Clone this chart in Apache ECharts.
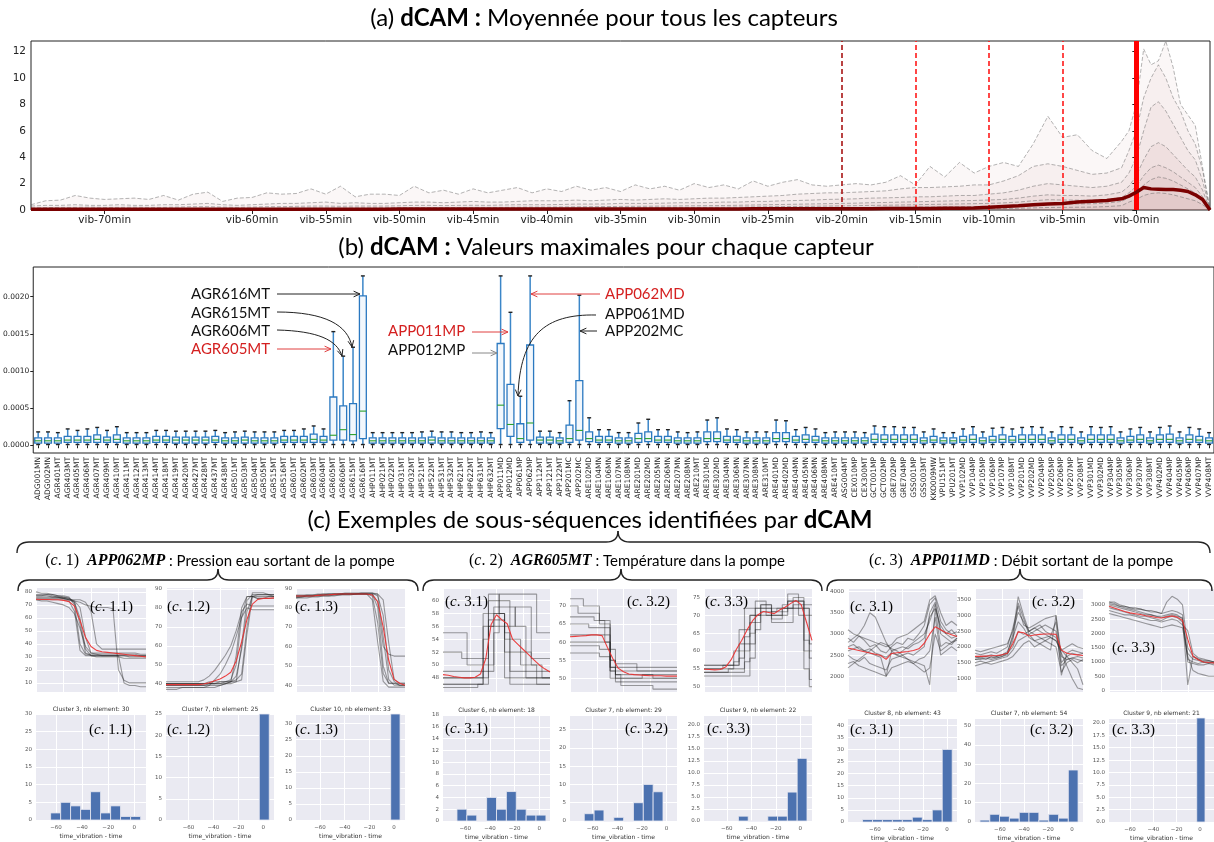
<!DOCTYPE html>
<html><head><meta charset="utf-8">
<script src="https://cdn.jsdelivr.net/npm/echarts@6/dist/echarts.min.js"></script>
<style>html,body{margin:0;padding:0;background:#fff}#c{width:1214px;height:842px}</style>
</head><body><div id="c"></div><script>
// ---------------- DATA: panel (a) ----------------
const aTimes = [-75,-74,-73,-72,-71,-70,-69,-68,-67,-66,-65,-64,-63,-62,-61,-60,-59,-58,-57,-56,-55,-54,-53,-52,-51,-50,-49,-48,-47,-46,-45,-44,-43,-42,-41,-40,-39,-38,-37,-36,-35,-34,-33,-32,-31,-30,-29,-28,-27,-26,-25,-24,-23,-22,-21,-20,-19,-18,-17,-16,-15,-14,-13,-12,-11,-10,-9,-8,-7,-6,-5,-4,-3,-2,-1,-0.5,0,0.5,1,1.5,2,2.5,3,3.5,4,4.5,5];
const aQ1 = [0.4,0.7,0.75,1.1,0.9,0.8,0.85,0.9,0.8,1.1,0.75,1.2,1.35,0.65,0.9,
0.95,1.3,1.2,1.25,1.6,1.2,1.8,1.0,1.2,1.2,1.1,1.8,1.3,1.5,1.2,1.6,1.3,1.5,1.7,1.3,
1.6,1.4,1.8,1.5,1.7,1.4,1.9,1.6,1.8,1.5,2.0,1.7,1.9,1.6,2.2,1.8,2.1,2.3,1.9,1.8,
1.9,2.0,1.9,2.1,2.6,1.9,3.3,2.5,3.6,2.8,3.3,3.6,3.3,5.0,7.1,5.5,5.7,4.5,3.9,5.2,
6.0,8.0,12.2,11.0,11.3,12.8,10.8,8.0,7.2,6.4,3.2,0];
const aQ2 = [0.3,0.35,0.35,0.4,0.35,0.35,0.4,0.35,0.35,0.4,0.4,0.45,0.5,0.4,0.35,
0.4,0.45,0.5,0.5,0.55,0.6,0.5,0.55,0.5,0.5,0.55,0.6,0.6,0.55,0.6,0.65,0.6,0.6,0.65,0.7,
0.7,0.7,0.75,0.7,0.75,0.8,0.75,0.8,0.85,0.8,0.85,0.9,0.9,0.95,1.0,1.05,1.1,1.2,1.25,1.3,
1.3,1.35,1.4,1.45,1.6,1.7,1.7,1.75,1.8,1.9,1.9,2.2,2.6,3.3,3.5,3.3,3.0,2.7,2.8,3.2,
4.5,6.0,8.5,10.0,11.0,10.0,8.5,7.5,6.0,5.0,3.0,0];
const aQ3 = [0.15,0.18,0.2,0.2,0.22,0.2,0.2,0.22,0.2,0.2,0.22,0.25,0.25,0.22,0.2,
0.22,0.25,0.25,0.28,0.3,0.3,0.28,0.3,0.3,0.3,0.32,0.35,0.35,0.33,0.35,0.36,0.35,0.38,0.4,0.4,
0.4,0.42,0.45,0.45,0.46,0.5,0.5,0.5,0.52,0.55,0.55,0.56,0.6,0.6,0.65,0.65,0.7,0.72,0.75,0.8,
0.82,0.85,0.9,0.92,0.95,1.0,1.0,1.05,1.1,1.1,1.2,1.3,1.5,1.8,2.0,1.9,1.8,1.7,1.8,2.1,
2.8,4.0,6.0,7.8,8.2,7.5,6.5,5.5,4.5,3.8,2.2,0];
const aQ4 = [0.08,0.1,0.1,0.1,0.1,0.1,0.1,0.1,0.1,0.1,0.1,0.12,0.12,0.1,0.1,
0.12,0.12,0.13,0.14,0.15,0.15,0.15,0.16,0.16,0.17,0.17,0.18,0.18,0.18,0.19,0.2,0.2,0.2,0.21,0.22,
0.22,0.23,0.24,0.25,0.26,0.27,0.28,0.29,0.3,0.31,0.32,0.33,0.34,0.36,0.38,0.4,0.42,0.44,0.46,0.48,
0.5,0.52,0.55,0.57,0.6,0.62,0.65,0.68,0.7,0.72,0.76,0.8,0.9,1.05,1.15,1.1,1.1,1.05,1.15,1.35,
1.8,2.6,3.8,4.8,5.1,4.8,4.2,3.6,3.0,2.5,1.5,0];
const aQ5 = [0.05,0.05,0.06,0.06,0.06,0.06,0.06,0.06,0.06,0.06,0.06,0.07,0.07,0.06,0.06,
0.07,0.07,0.07,0.08,0.08,0.08,0.08,0.09,0.09,0.09,0.1,0.1,0.1,0.1,0.11,0.11,0.11,0.12,0.12,0.12,
0.13,0.13,0.14,0.14,0.15,0.16,0.16,0.17,0.18,0.18,0.19,0.2,0.21,0.22,0.23,0.24,0.26,0.27,0.28,0.3,
0.31,0.33,0.35,0.36,0.38,0.4,0.42,0.44,0.46,0.48,0.5,0.54,0.6,0.7,0.78,0.76,0.75,0.74,0.8,0.95,
1.3,1.8,2.6,3.2,3.4,3.2,2.9,2.5,2.1,1.7,1.0,0];
const aQ6 = [0.03,0.03,0.03,0.03,0.03,0.03,0.03,0.03,0.03,0.03,0.03,0.04,0.04,0.03,0.03,
0.04,0.04,0.04,0.04,0.04,0.05,0.05,0.05,0.05,0.05,0.05,0.05,0.06,0.06,0.06,0.06,0.06,0.06,0.07,0.07,
0.07,0.07,0.08,0.08,0.08,0.09,0.09,0.1,0.1,0.1,0.11,0.11,0.12,0.12,0.13,0.13,0.14,0.15,0.15,0.16,
0.17,0.18,0.19,0.2,0.21,0.22,0.23,0.24,0.25,0.26,0.28,0.3,0.34,0.4,0.46,0.46,0.46,0.47,0.52,0.65,
0.95,1.3,1.9,2.3,2.5,2.4,2.2,1.9,1.6,1.3,0.7,0];
const aQ7 = [0.01,0.01,0.01,0.01,0.01,0.01,0.01,0.01,0.01,0.01,0.01,0.01,0.01,0.01,0.01,
0.01,0.01,0.01,0.01,0.01,0.02,0.02,0.02,0.02,0.02,0.02,0.02,0.02,0.02,0.02,0.02,0.02,0.02,0.02,0.02,
0.02,0.02,0.03,0.03,0.03,0.03,0.03,0.03,0.03,0.03,0.04,0.04,0.04,0.04,0.04,0.04,0.05,0.05,0.05,0.05,
0.06,0.06,0.06,0.07,0.07,0.08,0.08,0.09,0.09,0.1,0.1,0.11,0.13,0.16,0.19,0.2,0.21,0.22,0.26,0.33,
0.6,0.8,1.1,1.25,1.3,1.25,1.15,1.0,0.85,0.7,0.4,0];
const aMean = [0.06,0.06,0.06,0.06,0.06,0.06,0.06,0.06,0.06,0.06,0.06,0.06,0.06,0.06,0.06,
0.06,0.06,0.06,0.06,0.06,0.06,0.06,0.06,0.06,0.06,0.07,0.07,0.07,0.07,0.07,0.07,0.07,0.07,0.07,0.07,
0.07,0.07,0.07,0.07,0.07,0.08,0.08,0.08,0.08,0.08,0.08,0.08,0.08,0.08,0.09,0.09,0.09,0.09,0.09,0.09,
0.1,0.1,0.1,0.11,0.11,0.12,0.12,0.13,0.14,0.15,0.2,0.26,0.32,0.4,0.45,0.5,0.6,0.66,0.72,0.85,
1.05,1.35,1.7,1.6,1.58,1.55,1.55,1.5,1.4,1.15,0.8,0];
const aXTicks = [-70,-60,-55,-50,-45,-40,-35,-30,-25,-20,-15,-10,-5,0];
const aYTicks = [0,2,4,6,8,10,12];
const aMarkers = [-20,-15,-10,-5];

// ---------------- DATA: panel (b) ----------------
const sensors = ['ADG001MN','ADG002MN','AGR401MT','AGR403MT','AGR405MT','AGR406MT','AGR407MT','AGR409MT','AGR410MT','AGR411MT','AGR412MT','AGR413MT','AGR414MT','AGR418MT','AGR419MT','AGR420MT','AGR427MT','AGR428MT','AGR437MT','AGR438MT','AGR501MT','AGR503MT','AGR504MT','AGR505MT','AGR515MT','AGR516MT','AGR601MT','AGR602MT','AGR603MT','AGR604MT','AGR605MT','AGR606MT','AGR615MT','AGR616MT','AHP011MT','AHP021MT','AHP022MT','AHP031MT','AHP032MT','AHP521MT','AHP522MT','AHP531MT','AHP532MT','AHP621MT','AHP622MT','AHP631MT','AHP632MT','APP011MD','APP012MD','APP061MP','APP062MP','APP112MT','APP121MT','APP122MT','APP201MC','APP202MC','ARE102MD','ARE104MN','ARE106MN','ARE107MN','ARE108MN','ARE201MD','ARE202MD','ARE205MN','ARE206MN','ARE207MN','ARE208MN','ARE210MT','ARE301MD','ARE302MD','ARE304MN','ARE306MN','ARE307MN','ARE308MN','ARE310MT','ARE401MD','ARE402MD','ARE404MN','ARE405MN','ARE406MN','ARE408MN','ARE410MT','ASG004MT','CEX010MP','CEX300MT','GCT001MP','GCT002MP','GRE702MP','GRE704MP','GSS001MP','GSS003MT','KKO009MW','VPU151MT','VPU201MT','VVP102MD','VVP104MP','VVP105MP','VVP106MP','VVP107MP','VVP108MT','VVP201MD','VVP202MD','VVP204MP','VVP205MP','VVP206MP','VVP207MP','VVP208MT','VVP301MD','VVP302MD','VVP304MP','VVP305MP','VVP306MP','VVP307MP','VVP308MT','VVP402MD','VVP404MP','VVP405MP','VVP406MP','VVP407MP','VVP408MT'];
// [whisker low, Q1, median, Q3, whisker high]
const boxStats = [
[1e-5,3e-5,6e-5,10e-5,18e-5],[1e-5,3e-5,6e-5,10e-5,18e-5],[1e-5,3e-5,6e-5,10e-5,17e-5],[1e-5,4e-5,7e-5,12e-5,22e-5],[1e-5,4e-5,7e-5,12e-5,20e-5],
[1e-5,4e-5,7e-5,12e-5,22e-5],[1e-5,4e-5,8e-5,14e-5,24e-5],[1e-5,4e-5,7e-5,11e-5,20e-5],[1e-5,4e-5,8e-5,14e-5,25e-5],[1e-5,3e-5,6e-5,10e-5,17e-5],
[1e-5,3e-5,6e-5,10e-5,17e-5],[1e-5,3e-5,6e-5,10e-5,17e-5],[1e-5,4e-5,7e-5,12e-5,20e-5],[1e-5,4e-5,7e-5,12e-5,20e-5],[1e-5,3e-5,7e-5,11e-5,19e-5],
[1e-5,3e-5,7e-5,11e-5,19e-5],[1e-5,3e-5,7e-5,11e-5,19e-5],[1e-5,3e-5,7e-5,11e-5,19e-5],[1e-5,4e-5,7e-5,12e-5,20e-5],[1e-5,3e-5,6e-5,10e-5,17e-5],
[1e-5,3e-5,6e-5,10e-5,18e-5],[1e-5,3e-5,7e-5,11e-5,19e-5],[1e-5,3e-5,6e-5,10e-5,18e-5],[1e-5,3e-5,6e-5,10e-5,18e-5],[1e-5,3e-5,6e-5,10e-5,18e-5],
[1e-5,4e-5,7e-5,12e-5,20e-5],[1e-5,4e-5,7e-5,12e-5,20e-5],[1e-5,4e-5,7e-5,12e-5,22e-5],[1e-5,4e-5,8e-5,15e-5,26e-5],[1e-5,4e-5,7e-5,12e-5,22e-5],
[1e-5,7e-5,13.5e-5,65e-5,153e-5],[1e-5,7e-5,21e-5,53e-5,120e-5],[1e-5,6e-5,14.4e-5,56e-5,132e-5],[1e-5,9e-5,46e-5,201e-5,228e-5],[1e-5,3e-5,6e-5,10e-5,17e-5],
[1e-5,3e-5,6e-5,10e-5,17e-5],[1e-5,3e-5,6e-5,10e-5,17e-5],[1e-5,3e-5,6e-5,10e-5,17e-5],[1e-5,3e-5,6e-5,10e-5,17e-5],[1e-5,3e-5,6e-5,10e-5,18e-5],
[1e-5,3e-5,7e-5,11e-5,19e-5],[1e-5,3e-5,6e-5,10e-5,18e-5],[1e-5,3e-5,6e-5,10e-5,18e-5],[1e-5,3e-5,6e-5,10e-5,17e-5],[1e-5,3e-5,6e-5,10e-5,17e-5],
[1e-5,3e-5,6e-5,10e-5,18e-5],[1e-5,3e-5,6e-5,10e-5,17e-5],[1e-5,22.5e-5,54e-5,137e-5,228e-5],[1e-5,12e-5,28e-5,82e-5,179e-5],[1e-5,4e-5,9e-5,29e-5,66e-5],
[1e-5,7e-5,30e-5,135e-5,228e-5],[1e-5,3e-5,7e-5,11e-5,19e-5],[1e-5,3e-5,7e-5,11e-5,19e-5],[1e-5,3e-5,6e-5,10e-5,17e-5],[1e-5,4e-5,9e-5,27e-5,60e-5],
[1e-5,7e-5,20e-5,87e-5,202e-5],[1e-5,5e-5,9e-5,18e-5,37e-5],[1e-5,4e-5,7e-5,12e-5,21e-5],[1e-5,4e-5,7e-5,12e-5,21e-5],[1e-5,3e-5,6e-5,10e-5,17e-5],
[1e-5,3e-5,6e-5,10e-5,17e-5],[1e-5,4e-5,9e-5,16e-5,30e-5],[1e-5,5e-5,9e-5,18e-5,35e-5],[1e-5,4e-5,7e-5,12e-5,21e-5],[1e-5,4e-5,7e-5,12e-5,21e-5],
[1e-5,3e-5,6e-5,10e-5,18e-5],[1e-5,3e-5,6e-5,10e-5,17e-5],[1e-5,3e-5,6e-5,10e-5,18e-5],[1e-5,5e-5,9e-5,18e-5,34e-5],[1e-5,5e-5,9e-5,18e-5,37e-5],
[1e-5,4e-5,7e-5,12e-5,22e-5],[1e-5,4e-5,7e-5,12e-5,21e-5],[1e-5,3e-5,6e-5,10e-5,18e-5],[1e-5,3e-5,6e-5,10e-5,18e-5],[1e-5,3e-5,6e-5,10e-5,18e-5],
[1e-5,5e-5,9e-5,17e-5,34e-5],[1e-5,5e-5,9e-5,17e-5,33e-5],[1e-5,4e-5,7e-5,12e-5,21e-5],[1e-5,4e-5,8e-5,14e-5,24e-5],[1e-5,4e-5,7e-5,12e-5,22e-5],
[1e-5,3e-5,6e-5,10e-5,17e-5],[1e-5,3e-5,6e-5,10e-5,18e-5],[1e-5,3e-5,6e-5,10e-5,18e-5],[1e-5,3e-5,6e-5,10e-5,18e-5],[1e-5,3e-5,6e-5,10e-5,17e-5],
[1e-5,4e-5,8e-5,15e-5,26e-5],[1e-5,4e-5,8e-5,14e-5,25e-5],[1e-5,4e-5,8e-5,14e-5,25e-5],[1e-5,4e-5,8e-5,14e-5,24e-5],[1e-5,4e-5,8e-5,14e-5,24e-5],
[1e-5,3e-5,6e-5,10e-5,18e-5],[1e-5,4e-5,7e-5,12e-5,22e-5],[1e-5,3e-5,6e-5,10e-5,17e-5],[1e-5,3e-5,6e-5,10e-5,17e-5],[1e-5,4e-5,7e-5,12e-5,22e-5],
[1e-5,4e-5,8e-5,14e-5,25e-5],[1e-5,3e-5,6e-5,10e-5,18e-5],[1e-5,4e-5,7e-5,12e-5,23e-5],[1e-5,4e-5,8e-5,14e-5,24e-5],[1e-5,4e-5,7e-5,12e-5,22e-5],
[1e-5,4e-5,8e-5,14e-5,24e-5],[1e-5,4e-5,8e-5,14e-5,25e-5],[1e-5,4e-5,8e-5,14e-5,24e-5],[1e-5,3e-5,6e-5,10e-5,18e-5],[1e-5,4e-5,8e-5,14e-5,25e-5],
[1e-5,4e-5,8e-5,14e-5,24e-5],[1e-5,3e-5,6e-5,10e-5,18e-5],[1e-5,4e-5,8e-5,14e-5,25e-5],[1e-5,4e-5,8e-5,14e-5,24e-5],[1e-5,4e-5,8e-5,14e-5,25e-5],
[1e-5,3e-5,6e-5,10e-5,18e-5],[1e-5,4e-5,7e-5,12e-5,22e-5],[1e-5,4e-5,8e-5,14e-5,24e-5],[1e-5,3e-5,6e-5,10e-5,18e-5],[1e-5,4e-5,8e-5,14e-5,24e-5],
[1e-5,4e-5,8e-5,15e-5,26e-5],[1e-5,3e-5,6e-5,10e-5,18e-5],[1e-5,4e-5,8e-5,14e-5,24e-5],[1e-5,4e-5,7e-5,12e-5,22e-5],[1e-5,3e-5,6e-5,10e-5,17e-5]];
const bYTicks = [0,0.0005,0.001,0.0015,0.002];

// ---------------- DATA: panel (c) sub-sequences ----------------
const c11Traces = [
[77,77,78,78,77,77,76,70,40,32,32,32,31,31,31,31,31,30,30,30,30],
[75,75,75,75,75,75,74,72,55,33,31,31,31,31,31,31,31,31,31,31,31],
[76,76,76,76,76,76,75,73,68,45,33,33,33,33,33,33,33,33,33,32,32],
[74,74,74,74,74,74,73,65,35,31,31,31,31,31,31,31,10,8,8,7,7],
[77,77,77,76,76,75,74,74,74,72,65,40,36,36,36,36,36,36,36,36,36],
[78,78,78,77,76,75,74,73,72,70,69,68,68,68,67,20,12,10,10,10,10],
[74,73,73,72,71,70,68,63,52,38,33,32,32,32,32,32,32,32,32,31,31],
[80,79,79,78,77,76,75,72,60,36,31,30,30,30,30,30,29,29,29,29,29]];
const c11Mean = [74.3,74.2,74.1,74,74,73.5,72.5,69,58,45,38,35,34,33.5,33,32.5,32,31.5,31,30.5,30];
const c12Traces = [
[39,39,39,39,39,39,39,39,39,39,39,40,40,41,60,84,87,87,87,87,87],
[40,40,40,40,40,40,40,40,40,40,41,41,42,50,75,86,86,86,86,86,86],
[38,38,38,38,38,38,38,38,39,42,45,50,56,65,75,80,79,79,79,79,79],
[40,40,40,40,40,40,40,40,41,41,41,41,41,42,45,70,88,88,88,87,87],
[39,39,39,39,39,39,39,39,40,40,40,40,41,55,80,86,86,85,85,85,85],
[41,41,41,41,41,41,41,42,44,47,51,55,60,68,78,82,81,81,81,81,81],
[37,37,37,38,38,38,38,38,38,38,39,40,41,44,58,78,86,85,85,86,86],
[40,40,40,40,40,40,40,40,40,40,40,41,41,41,42,66,86,87,87,87,86]];
const c12Mean = [39.5,39.5,39.5,39.5,39.5,39.5,39.5,39.8,40.5,41.5,42.5,44,46,52,62,74,82,84.5,85,85,85.3];
const c13Traces = [
[85,85.5,86,86,86.5,86.5,87,87,87,87,87,87,87.5,87.5,87.5,87,65,43,40,40,40],
[86,86,86,86,86.5,86.5,86.5,87,87,87,87,87,87,87,87,80,50,41,41,40,40],
[86,86,86.5,86.5,86.5,87,87,87,87,87,87,87,87,87,86,72,46,41,41,41,41],
[85,85,85,85.5,85.5,86,86,86,86.5,86.5,86.5,87,87,87,87,87,84,62,43,41,41],
[86,86,86,86,86,86.5,86.5,86.5,87,87,87,87,87,87,87,83,60,56,55,55,55],
[85.5,85.5,86,86,86,86,86,86.5,86.5,87,87,87,87,87,84,62,42,39,39,39,39],
[86.5,86.5,86.5,86.5,87,87,87,87,87,87.5,87.5,87.5,87.5,87.5,87.5,86,76,48,42,40,40]];
const c13Mean = [86,86,86,86,86.3,86.5,86.6,86.8,87,87,87,87,87,87,86.5,83,70,53,43,41,40];
const c21Traces = [
[47,47,47,47,47,47,47,47,58,60,60,60,60,47,47,47,47,47,47,47,47],
[48,48,48,48,48,48,48,48,48,57,59,59,59,59,56,56,48,48,48,48,48],
[52,52,52,52,51,51,51,51,51,56,58,58,52,52,52,52,52,50,50,48,48],
[55,55,55,55,55,50,50,50,50,50,55,61,61,61,61,61,61,61,55,55,55],
[47,47,47,47,47,47,47,47,54,58,58,58,55,49,49,49,49,49,47,47,47],
[49,49,49,49,49,49,49,49,49,49,56,56,56,56,59,59,59,51,51,51,51],
[46.5,46.5,46.5,46.5,46.5,46.5,46.5,47,47,61,61,58,48,48,48,48,48,48,48,48,48],
[48,48,48,48,48,48,48,48,56,56,57,57,54,54,54,50,50,50,49,49,49]];
const c21Mean = [48.5,48.4,48.2,48.1,48.0,48.0,48.1,48.6,51.0,56.3,57.8,57.0,56.4,54.0,53.2,52.4,51.6,50.8,50.0,49.4,48.9];
const c22Traces = [
[72,72,72,70,70,70,66,66,52,52,52,52,52,52,52,52,52,52,52,52,52],
[65,65,65,65,64,64,64,64,53,51,51,51,51,51,51,51,50,50,50,50,50],
[62,62,62,62,62,62,62,60,53,53,53,53,53,53,53,53,53,53,53,53,53],
[59,59,59,59,59,59,58,58,52,49,49,49,49,49,49,49,49,49,49,49,49],
[57,57,57,57,57,57,56,56,50,50,48,48,48,48,48,48,47,47,47,47,47],
[67,67,67,67,67,66,66,62,55,54,54,54,54,52,52,52,52,52,52,52,52],
[60,60,60,60,60,60,60,60,58,51,50,50,50,50,50,50,50,50,50,50,50],
[70,70,68,68,68,68,65,65,55,50,50,50,50,50,51,51,51,51,51,51,51]];
const c22Mean = [61.5,61.6,61.7,61.8,62,62,61.8,58.5,55.5,52.8,51.8,51.2,51,50.9,50.8,50.7,50.7,50.7,50.6,50.6,50.6];
const c23Traces = [
[55,55,55,55,55,55,57,60,66,70,72,72,72,71,72,73,74,74,74,72,70],
[54,54,54,54,54,54,54,54,60,65,70,72,70,70,70,72,74,75,75,60,58],
[56,56,56,56,56,56,60,66,72,72,72,73,73,70,70,70,72,73,73,73,73],
[53,53,53,53,53,53,53,53,53,58,66,71,71,68,68,68,68,74,74,55,50],
[55,55,55,55,56,56,56,62,62,68,68,70,70,71,71,71,72,72,72,70,62],
[54,54,54,54,54,55,55,55,57,62,70,73,73,69,69,72,76,76,70,63,60],
[56,56,56,56,56,56,56,58,64,70,74,74,72,72,72,72,72,72,72,72,52]];
const c23Mean = [54.9,54.8,54.7,54.8,55.5,57.5,60.5,63,66,68.5,70.2,71.1,70.8,70.5,71.5,72.3,73.3,74.2,73,68,63];
const c31Traces = [
[2900,2800,2950,2850,2700,2750,2600,2550,2700,2800,2750,2900,2850,3000,3200,3700,3850,3300,3100,3000,3050],
[2500,2400,2350,2450,2300,2250,2200,2150,2400,2450,2500,2550,2500,2600,2700,3500,3750,3000,2900,2800,2850],
[2700,2750,2650,2600,2550,2500,2450,2000,2600,2650,2700,2650,2750,2800,2900,3400,3600,3200,3000,3100,2950],
[3100,3000,2950,2900,2850,2800,2750,2700,2750,2900,2950,3000,3100,3200,3300,3800,3900,3500,3200,3300,3200],
[2300,2350,2250,2200,2150,2100,2050,2000,2200,2250,2300,2350,2300,2400,2450,2600,3400,2500,2600,2700,2600],
[2600,2650,2700,2600,2650,2550,2500,2450,2550,2500,2450,2400,2350,2300,2250,1800,3600,2700,2800,2750,2900],
[2200,2300,2400,2500,2600,2700,2800,2750,2650,2600,2500,2400,2300,2200,2100,2200,3000,2600,2700,2800,2900],
[2800,2900,3000,3200,3500,3400,3100,2800,2600,2500,2600,2700,2800,2900,3000,3300,3700,3100,3000,2900,2950]];
const c31Mean = [2670,2640,2610,2580,2550,2520,2490,2400,2540,2555,2570,2585,2610,2650,2780,3000,3170,3100,3030,2980,2940];
const c32Traces = [
[1600,1650,1600,1700,1650,1700,1800,2400,3600,3000,2500,2400,2300,2200,2100,2000,1200,1500,1600,1500,1600],
[1800,1750,1800,1850,1800,1900,2000,2600,3300,2700,2600,2700,2800,2900,2950,3000,1500,1700,1800,1750,1800],
[1500,1550,1500,1550,1600,1650,1700,1900,2200,2300,2400,2500,2600,2700,2600,2500,1400,1600,1650,1600,1550],
[1700,1650,1700,1750,1700,1750,1850,2300,2800,2600,2300,2200,2250,2300,2350,2800,1100,1800,1900,1850,1800],
[1400,1450,1500,1450,1500,1550,1600,1700,1900,2100,2200,2000,2100,2200,2300,2200,1900,1700,1500,1300,800],
[1900,1850,1900,1950,2000,2050,2100,2500,3100,2800,2500,2600,2700,2500,2400,2300,1900,2000,2100,2000,1950],
[1600,1600,1650,1600,1650,1700,1750,2200,3400,2900,2400,2200,2100,2000,1900,3000,1700,1600,1650,1700,1650],
[1650,1700,1700,1650,1700,1750,1800,2000,2500,2400,2500,2600,2500,2400,2300,2200,1800,1400,1000,700,650]];
const c32Mean = [1700,1700,1710,1720,1730,1750,1800,2100,2480,2450,2350,2380,2400,2410,2410,2400,1900,1800,1770,1750,1730];
const c33Traces = [
[3100,3050,2950,2900,2850,2800,2750,2700,2650,2600,2600,2650,2700,2650,2500,1100,1000,950,1000,950,1000],
[2900,2850,2800,2750,2700,2650,2600,2600,2550,2500,2450,2550,2600,2550,2400,1300,1100,1050,1000,1000,950],
[3000,2950,2900,2850,2800,2750,2700,2650,2650,2600,2550,2600,2650,2600,2550,200,1200,1100,1050,1050,1000],
[2800,2750,2700,2650,2650,2600,2550,2500,2450,2450,2400,2450,2500,2450,2300,2100,1300,1150,1100,1050,1000],
[3050,3000,2950,2950,2900,2850,2850,2800,2800,2750,2700,3100,3300,3200,3000,1500,1200,1100,1000,1000,1000],
[2700,2650,2600,2550,2500,2450,2400,2350,2300,2250,2200,2250,2300,2250,2200,1200,700,600,550,500,500],
[3100,3100,3000,2950,2900,2900,2850,2800,2750,2750,2700,2750,2800,2750,2650,1000,950,900,900,950,900]];
const c33Mean = [2950,2890,2830,2770,2720,2690,2660,2620,2590,2560,2540,2580,2610,2570,2450,1800,1200,1080,1000,980,970];
// y-axis ranges and tick labels for the 9 line plots
const cYRanges = [[3,83],[35.6,90.5],[36.5,90.1],[45.8,61.8],[46.2,74.7],[48.5,77.4],[1630,4060],[570,3840],[-50,3555]];
const cYTicks = [[10,20,30,40,50,60,70,80],[40,50,60,70,80,90],[40,50,60,70,80,90],[48,50,52,54,56,58,60],[50,55,60,65,70,75],[50,55,60,65,70,75],[2000,2500,3000,3500,4000],[1000,1500,2000,2500,3000,3500],[0,500,1000,1500,2000,2500,3000]];

// histograms: bin edges and counts
const h11Edges = [-64.1,-56.4,-48.8,-41.1,-33.5,-25.8,-18.1,-10.5,-2.8,4.9];
const h11Counts = [2,5,4,3,8,2,4,1,1];
const h12Edges = [-3.2,4.8]; const h12Counts = [25];
const h13Edges = [-2.7,4.9]; const h13Counts = [33];
const h21Edges = [-66.7,-58.7,-50.7,-42.7,-34.7,-26.7,-18.7,-10.7,-2.7,5.3];
const h21Counts = [2,1,0,4,2,5,2,1,1];
const h22Edges = [-66.8,-58.8,-50.8,-42.8,-34.8,-26.8,-18.8,-10.8,-2.8];
const h22Counts = [2,3,0,1,0,5,10,8];
const h23Edges = [-50.5,-42.5,-34.5,-26.5,-18.5,-10.5,-2.5,5.5];
const h23Counts = [1,0,0,1,1,6,13];
const h31Edges = [-70.3,-62,-53.7,-45.4,-37.1,-28.8,-20.5,-12.2,-3.9,4.4];
const h31Counts = [1,1,1,1,1,2,1,5,30];
const h32Edges = [-76.6,-68.4,-60.3,-52.1,-43.9,-35.8,-27.6,-19.4,-11.2,-3.1,5.0];
const h32Counts = [1,4,3,2,5,5,1,4,2,27];
const h33Edges = [-2.8,4.3]; const h33Counts = [21];
const hNb = [30,25,33,18,29,22,43,54,21];
const hClusters = [3,7,10,6,7,9,8,7,9];
const hXRanges = [[-75.3,9],[-78,8.6],[-79.5,8.9],[-78,8.6],[-78.4,8.6],[-78.6,9.6],[-82.4,8.4],[-80.7,9.1],[-78,12]];
const hYInterval = [5,5,5,2,5,2.5,5,10,2.5];
const hXTicks = [-60,-40,-20,0];

// ---------------- LAYOUT ----------------
const lineBoxes = [[36,588,110,104],[166,588,108,104],[296,588,109,104],[443,589,107,103],[570,589,107,103],[704,589,108,103],[848,589,109,103],[975,589,108,103],[1109,589,105,103]];
const histBoxes = [[36,714,110,106],[166,714,108,106],[296,714,109,106],[443,715,107,106],[570,715,107,106],[704,715,108,106],[848,718,109,105],[975,718,108,105],[1109,718,105,105]];
const lineSets = [[c11Traces,c11Mean,false],[c12Traces,c12Mean,false],[c13Traces,c13Mean,false],[c21Traces,c21Mean,true],[c22Traces,c22Mean,true],[c23Traces,c23Mean,true],[c31Traces,c31Mean,false],[c32Traces,c32Mean,false],[c33Traces,c33Mean,false]];
const histSets = [[h11Edges,h11Counts],[h12Edges,h12Counts],[h13Edges,h13Counts],[h21Edges,h21Counts],[h22Edges,h22Counts],[h23Edges,h23Counts],[h31Edges,h31Counts],[h32Edges,h32Counts],[h33Edges,h33Counts]];

const SANS = 'Lato';
const SERIF = 'Liberation Serif';
const MPL = 'DejaVu Sans';

const grid = [], xAxis = [], yAxis = [], series = [];
// ---- panel a ----
grid.push({left:31, top:41, width:1179, height:169, show:true, borderColor:'#222', borderWidth:1, backgroundColor:'rgba(0,0,0,0)'});
xAxis.push({type:'value', gridIndex:0, min:-75, max:5, axisLine:{show:false},
  axisTick:{show:true, length:4, customValues:aXTicks, lineStyle:{color:'#222'}},
  axisLabel:{customValues:aXTicks, formatter:v=>'vib-'+Math.abs(v)+'min', fontSize:10.5, color:'#222', fontFamily:MPL, margin:5},
  splitLine:{show:false}});
yAxis.push({type:'value', gridIndex:0, min:0, max:12.8, axisLine:{show:false},
  axisTick:{show:true, length:4, customValues:aYTicks, lineStyle:{color:'#222'}},
  axisLabel:{customValues:aYTicks, fontSize:10.5, color:'#222', fontFamily:MPL, margin:5},
  splitLine:{show:false}});
[aQ1,aQ2,aQ3,aQ4,aQ5,aQ6,aQ7].forEach(arr=>{
  series.push({type:'line', xAxisIndex:0, yAxisIndex:0, data:aTimes.map((t,i)=>[t,arr[i]]), symbol:'none', silent:true,
    lineStyle:{color:'rgba(90,90,90,0.5)', width:0.9, type:[4,2]}, areaStyle:{color:'rgba(150,45,45,0.055)', origin:'start'}, z:2});
});
series.push({type:'line', xAxisIndex:0, yAxisIndex:0, data:aTimes.map((t,i)=>[t,aMean[i]]), symbol:'none', silent:true,
  lineStyle:{color:'#7a0000', width:3.5}, z:6});
// vertical markers (red dashed + thick solid at vib-0)
series.push({type:'line', xAxisIndex:0, yAxisIndex:0, data:[], silent:true, z:8,
  markLine:{silent:true, symbol:['none','none'], label:{show:false}, animation:false,
    lineStyle:{color:'#ff1a1a', type:[5,3], width:1.6, opacity:1},
    emphasis:{disabled:true},
    data: aMarkers.map(m=>({xAxis:m, lineStyle:{color: m===-20?'#a81515':'#ff1a1a', type:[5,3], width:1.6, opacity:1}}))
      .concat([{xAxis:0, lineStyle:{color:'#ff0000', type:'solid', width:5, opacity:1}}])}});

// ---- panel b ----
grid.push({left:31, top:267, width:1183, height:186, show:true, borderColor:'#222', borderWidth:1, backgroundColor:'rgba(0,0,0,0)'});
xAxis.push({type:'category', gridIndex:1, data:sensors, boundaryGap:true, axisLine:{show:false},
  axisTick:{show:true, alignWithLabel:true, interval:0, length:3, lineStyle:{color:'#222'}},
  axisLabel:{interval:0, rotate:90, fontSize:7.5, color:'#222', fontFamily:MPL, margin:4}, splitLine:{show:false}});
yAxis.push({type:'value', gridIndex:1, min:-0.000104, max:0.0024, axisLine:{show:false},
  axisTick:{show:true, length:3, customValues:bYTicks, lineStyle:{color:'#222'}},
  axisLabel:{customValues:bYTicks, formatter:v=>v.toFixed(4), fontSize:7.5, color:'#222', fontFamily:MPL, margin:4},
  splitLine:{show:false}});
series.push({type:'custom', xAxisIndex:1, yAxisIndex:1, silent:true, z:5,
  data: boxStats.map((r,i)=>[i].concat(r)),
  encode:{x:0, y:[1,2,3,4,5]},
  renderItem:(params, api)=>{
    const i = api.value(0);
    const pLo = api.coord([i, api.value(1)]), pQ1 = api.coord([i, api.value(2)]), pMed = api.coord([i, api.value(3)]),
          pQ3 = api.coord([i, api.value(4)]), pHi = api.coord([i, api.value(5)]);
    const bw = api.size([1,0])[0];
    const x = pLo[0], hw = bw*0.35, cw = bw*0.2;
    return {type:'group', children:[
      {type:'line', shape:{x1:x,y1:pQ3[1],x2:x,y2:pHi[1]}, style:{stroke:'#3b86c8', lineWidth:1.5}},
      {type:'line', shape:{x1:x,y1:pLo[1],x2:x,y2:pQ1[1]}, style:{stroke:'#3b86c8', lineWidth:1.5}},
      {type:'rect', shape:{x:x-hw,y:pQ3[1],width:2*hw,height:pQ1[1]-pQ3[1]}, style:{fill:'#f2f7fc', stroke:'#2a78c0', lineWidth:1.3}},
      {type:'line', shape:{x1:x-hw,y1:pMed[1],x2:x+hw,y2:pMed[1]}, style:{stroke:'#2ca02c', lineWidth:1.1}},
      {type:'line', shape:{x1:x-cw,y1:pHi[1],x2:x+cw,y2:pHi[1]}, style:{stroke:'#222', lineWidth:1.4}},
      {type:'line', shape:{x1:x-cw,y1:pLo[1],x2:x+cw,y2:pLo[1]}, style:{stroke:'#222', lineWidth:1.4}}
    ]};
  }});

// ---- panel c line plots ----
const tickLabelStyle = {fontSize:5.5, color:'#555', fontFamily:MPL, margin:4};
lineSets.forEach((set, k)=>{
  const gi = grid.length, b = lineBoxes[k];
  grid.push({left:b[0], top:b[1], width:b[2], height:b[3], show:true, backgroundColor:'#eaeaf2', borderWidth:0});
  xAxis.push({type:'value', gridIndex:gi, min:0, max:20, interval:5, axisLine:{show:false}, axisTick:{show:false}, axisLabel:{show:false},
    splitLine:{show:true, lineStyle:{color:'#fff', width:1}}});
  yAxis.push({type:'value', gridIndex:gi, min:cYRanges[k][0], max:cYRanges[k][1], axisLine:{show:false},
    axisTick:{show:false, customValues:cYTicks[k]}, axisLabel:Object.assign({customValues:cYTicks[k], formatter:v=>String(v)}, tickLabelStyle),
    splitLine:{show:true, lineStyle:{color:'#fff', width:1}}});
  set[0].forEach(tr=>{
    series.push({type:'line', xAxisIndex:gi, yAxisIndex:gi, data:tr.map((v,i)=>[i,v]), symbol:'none', silent:true, step:set[2]?'middle':false,
      lineStyle:{color:'rgba(30,30,30,0.42)', width:1.1}, z:3});
  });
  series.push({type:'line', xAxisIndex:gi, yAxisIndex:gi, data:set[1].map((v,i)=>[i,v]), symbol:'none', silent:true,
    lineStyle:{color:'rgba(235,45,45,0.9)', width:1.1}, z:4});
});

// ---- panel c histograms ----
histSets.forEach((set, k)=>{
  const gi = grid.length, b = histBoxes[k];
  grid.push({left:b[0], top:b[1], width:b[2], height:b[3], show:true, backgroundColor:'#eaeaf2', borderWidth:0});
  xAxis.push({type:'value', gridIndex:gi, min:hXRanges[k][0], max:hXRanges[k][1], axisLine:{show:false},
    axisTick:{show:false, customValues:hXTicks},
    axisLabel:Object.assign({customValues:hXTicks, formatter:v=>v<0?'\u2212'+(-v):String(v)}, tickLabelStyle, {margin:5}),
    splitLine:{show:true, lineStyle:{color:'#fff', width:1}},
    name:'time_vibration - time', nameLocation:'middle', nameGap:13, nameTextStyle:{fontSize:6, color:'#333', fontFamily:MPL}});
  const iv = hYInterval[k];
  yAxis.push({type:'value', gridIndex:gi, min:0, max:hNb[k], interval:iv, axisLine:{show:false}, axisTick:{show:false},
    axisLabel:Object.assign({formatter:v=>{ const r=v/iv; if (Math.abs(r-Math.round(r))>1e-6) return ''; return iv%1? v.toFixed(1): String(v);}}, tickLabelStyle),
    splitLine:{show:true, lineStyle:{color:'#fff', width:1}}});
  series.push({type:'custom', xAxisIndex:gi, yAxisIndex:gi, silent:true, z:5,
    data: set[1].map((c,i)=>[set[0][i], set[0][i+1], c]),
    encode:{x:[0,1], y:2},
    renderItem:(params, api)=>{
      const p0 = api.coord([api.value(0), api.value(2)]), p1 = api.coord([api.value(1), 0]);
      return {type:'rect', shape:{x:p0[0], y:p0[1], width:p1[0]-p0[0], height:p1[1]-p0[1]},
        style:{fill:'#4c72b0', stroke:'#eaeaf2', lineWidth:0.8}};
    }});
});

// ---------------- GRAPHIC (titles, annotations, braces) ----------------
const G = [];
function rtext(x, y, text, rich, align){
  G.push({type:'text', x:x, y:y, z:100, silent:true, style:{text:text, rich:rich, align:align||'center', textAlign:align||'center', verticalAlign:'middle', textVerticalAlign:'middle', fill:'#000'}});
}
const titleRich = {n:{fontFamily:SANS, fontSize:24, fill:'#000'}, b:{fontFamily:SANS, fontSize:24, fontWeight:'bold', fill:'#000'}};
rtext(604, 18, '{n|(a) }{b|dCAM :}{n| Moyennée pour tous les capteurs}', titleRich);
rtext(606, 247, '{n|(b) }{b|dCAM :}{n| Valeurs maximales pour chaque capteur}', titleRich);
rtext(590, 520, '{n|(c) Exemples de sous-séquences identifiées par }{b|dCAM}', titleRich);

const subRich = {m:{fontFamily:SERIF, fontSize:16, fill:'#000'}, i:{fontFamily:SERIF, fontSize:16, fontStyle:'italic', fill:'#000'},
  bi:{fontFamily:SERIF, fontSize:16, fontStyle:'italic', fontWeight:'bold', fill:'#000'}, s:{fontFamily:SANS, fontSize:15, fill:'#000'}};
rtext(220, 561, '{m|(}{i|c}{m|. 1)  }{bi|APP062MP}{s| : Pression eau sortant de la pompe}', subRich);
rtext(627, 561, '{m|(}{i|c}{m|. 2)  }{bi|AGR605MT}{s| : Température dans la pompe}', subRich);
rtext(1021, 561, '{m|(}{i|c}{m|. 3)  }{bi|APP011MD}{s| : Débit sortant de la pompe}', subRich);

const lblRich = {m:{fontFamily:SERIF, fontSize:15, fill:'#000'}, i:{fontFamily:SERIF, fontSize:15, fontStyle:'italic', fill:'#000'}};
const plotLabels = [['1.1',90,607],['1.2',167,607],['1.3',295,607],['3.1',445,602],['3.2',627,602],['3.3',705,602],['3.1',850,607],['3.2',1032,602],['3.3',1112,648],
  ['1.1',89,730],['1.2',167,730],['1.3',295,730],['3.1',445,729],['3.2',625,729],['3.3',707,729],['3.1',850,730],['3.2',1030,730],['3.3',1112,730]];
plotLabels.forEach(p=>rtext(p[1], p[2], '{m|(}{i|c}{m|. '+p[0]+')}', lblRich, 'left'));

histBoxes.forEach((b,k)=>{
  G.push({type:'text', x:b[0]+b[2]/2, y:b[1]-5, z:100, silent:true, style:{text:'Cluster '+hClusters[k]+', nb element: '+hNb[k], fontSize:6, fontFamily:MPL, fill:'#333', align:'center', textAlign:'center', verticalAlign:'middle', textVerticalAlign:'middle'}});
});

// annotations panel b
const annRich = {k:{fontFamily:SANS, fontSize:15, fill:'#111'}, r:{fontFamily:SANS, fontSize:15, fill:'#d42020'}};
[['k','AGR616MT',191,294],['k','AGR615MT',191,313],['k','AGR606MT',191,331],['r','AGR605MT',191,349],
 ['r','APP011MP',388,331],['k','APP012MP',388,350],['r','APP062MD',605,294],['k','APP061MD',605,314],['k','APP202MC',605,331]]
 .forEach(a=>rtext(a[2], a[3], '{'+a[0]+'|'+a[1]+'}', annRich, 'left'));
function head(x, y, ang, color){
  const L = 7, a = 0.42;
  G.push({type:'polyline', z:100, silent:true, shape:{points:[[x-L*Math.cos(ang-a), y-L*Math.sin(ang-a)],[x,y],[x-L*Math.cos(ang+a), y-L*Math.sin(ang+a)]]}, style:{stroke:color, lineWidth:1, fill:null}});
}
function arrow(x1,y1,x2,y2,color){
  G.push({type:'line', z:100, silent:true, shape:{x1,y1,x2,y2}, style:{stroke:color, lineWidth:1}});
  head(x2,y2,Math.atan2(y2-y1,x2-x1),color);
}
function carrow(x1,y1,c1x,c1y,c2x,c2y,x2,y2,color){
  G.push({type:'bezierCurve', z:100, silent:true, shape:{x1,y1,cpx1:c1x,cpy1:c1y,cpx2:c2x,cpy2:c2y,x2,y2}, style:{stroke:color, lineWidth:1, fill:null}});
  head(x2,y2,Math.atan2(y2-c2y,x2-c2x),color);
}
arrow(277,294,360,294,'#222');
carrow(277,312,325,312,348,325,352,347,'#222');
carrow(277,330,318,331,337,340,342,356,'#222');
arrow(277,349,331,349,'#e04040');
arrow(472,332,508,332,'#e04040');
arrow(472,353,497,353,'#888');
arrow(600,294,531,294,'#e04040');
carrow(596,315,545,314,520,335,518,396,'#222');
arrow(597,331,580,331,'#222');

// braces
function brace(xL, xR, xm, y, h, r){
  const st = {stroke:'#222', lineWidth:1.4, fill:null};
  [[xL,y+h,xL+r,y,xL,y],[xm-r,y,xm,y-h,xm,y],[xm,y-h,xm+r,y,xm,y],[xR-r,y,xR,y+h,xR,y]].forEach(c=>{
    G.push({type:'bezierCurve', z:100, silent:true, shape:{x1:c[0],y1:c[1],x2:c[2],y2:c[3],cpx1:c[4],cpy1:c[5]}, style:st});
  });
  G.push({type:'line', z:100, silent:true, shape:{x1:xL+r,y1:y,x2:xm-r,y2:y}, style:st});
  G.push({type:'line', z:100, silent:true, shape:{x1:xm+r,y1:y,x2:xR-r,y2:y}, style:st});
}
brace(17, 1210, 618, 542, 11, 12);
brace(18, 418, 218, 580, 11, 11);
brace(423, 822, 621, 580, 11, 11);
brace(827, 1212, 1020, 580, 11, 11);

const chart = echarts.init(document.getElementById('c'), null, {renderer:'canvas'});
chart.setOption({animation:false, backgroundColor:'#fff', grid, xAxis, yAxis, series, graphic:G});
</script></body></html>
